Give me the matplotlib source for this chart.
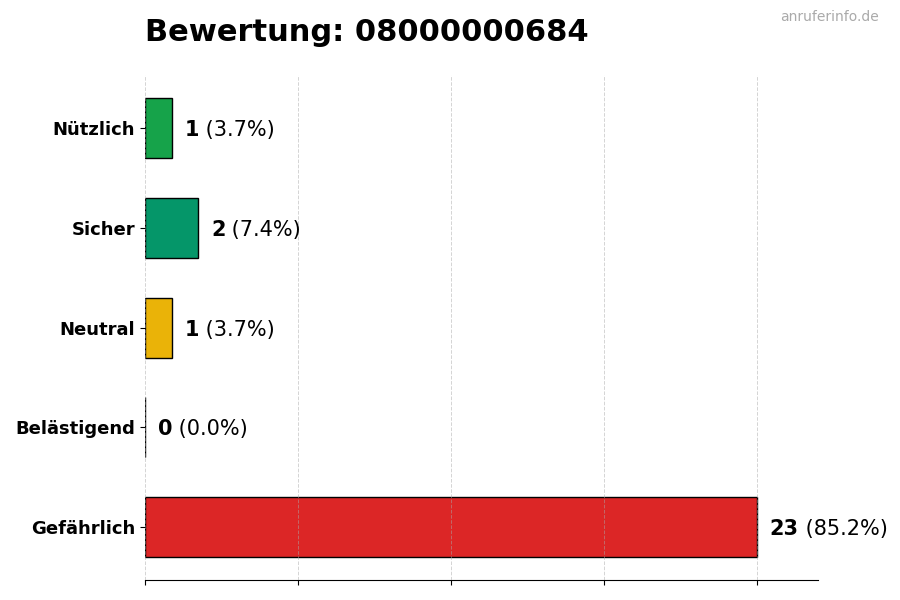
import matplotlib
matplotlib.use("Agg")
import matplotlib.pyplot as plt
import numpy as np

categories = ["Nützlich", "Sicher", "Neutral", "Belästigend", "Gefährlich"]
counts = [1, 2, 1, 0, 23]
colors = ["#16a34a", "#059669", "#eab308", "#6b7280", "#dc2626"]

total = sum(counts)
max_val = max(counts)

fig = plt.figure(figsize=(9, 6), dpi=100)
ax = fig.add_axes([0.161, 0.033, 0.748, 0.842])

y = np.arange(len(categories))[::-1]
ax.barh(y, counts, height=0.6, color=colors, edgecolor="black", linewidth=1, zorder=1)

ax.set_xlim(0, max_val * 1.1)
ax.set_xticks(np.linspace(0, max_val, 5))
ax.set_xticklabels([])
ax.grid(axis="x", linestyle="--", color="#aaaaaa", alpha=0.5, linewidth=0.7, zorder=3)
ax.set_axisbelow(False)

ax.set_yticks(y)
ax.set_yticklabels(categories, fontsize=13, fontweight="bold")

for side in ["top", "right", "left"]:
    ax.spines[side].set_visible(False)

for yi, v in zip(y, counts):
    pct = v / total * 100
    t = ax.text(v + max_val * 0.021, yi, str(v), fontsize=15, fontweight="bold",
                va="center_baseline", ha="left")
    ax.annotate(f" ({pct:.1f}%)", xy=(1, 0.5), xycoords=t, fontsize=15,
                va="center", ha="left")

fig.text(0.161, 0.946, "Bewertung: 08000000684", fontsize=22, fontweight="bold",
         ha="left", va="center")
fig.text(0.976, 0.971, "anruferinfo.de", fontsize=10, color="#aaaaaa",
         ha="right", va="center")

fig.savefig("out.png", dpi=100)
